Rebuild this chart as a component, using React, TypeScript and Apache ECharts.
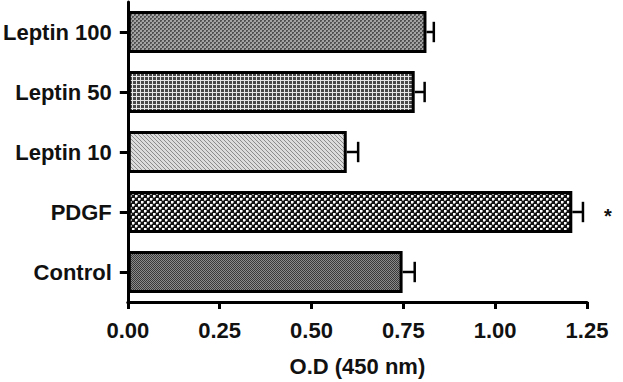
import React, { useEffect, useRef } from "react";
import * as echarts from "echarts";

const categories = ["Control", "PDGF", "Leptin 10", "Leptin 50", "Leptin 100"];
const values = [0.748, 1.21, 0.596, 0.781, 0.813];
const errors = [0.033, 0.029, 0.031, 0.027, 0.02];
const significance = ["", "*", "", "", ""];
const xTicks = [0, 0.25, 0.5, 0.75, 1.0, 1.25];
const xTitle = "O.D (450 nm)";

type Drawer = (ctx: CanvasRenderingContext2D) => void;

function makePattern(w: number, h: number, draw: Drawer) {
  const c = document.createElement("canvas");
  c.width = w;
  c.height = h;
  const ctx = c.getContext("2d") as CanvasRenderingContext2D;
  draw(ctx);
  return { image: c.toDataURL(), repeat: "repeat", imageWidth: w, imageHeight: h } as any;
}

function buildPatterns() {
  // Control: fine dark checker
  const control = makePattern(2, 2, (ctx) => {
    ctx.fillStyle = "#8a8a8a";
    ctx.fillRect(0, 0, 2, 2);
    ctx.fillStyle = "#383838";
    ctx.fillRect(0, 0, 1, 1);
    ctx.fillRect(1, 1, 1, 1);
  });
  // PDGF: black with white dots in a checker arrangement
  const pdgf = makePattern(6, 6, (ctx) => {
    ctx.fillStyle = "#141414";
    ctx.fillRect(0, 0, 6, 6);
    ctx.fillStyle = "#ffffff";
    ctx.fillRect(0, 0, 2, 2);
    ctx.fillRect(3, 3, 2, 2);
    ctx.fillStyle = "#9a9a9a";
    ctx.fillRect(2, 0, 1, 2);
    ctx.fillRect(0, 2, 2, 1);
    ctx.fillRect(5, 3, 1, 2);
    ctx.fillRect(3, 5, 2, 1);
  });
  // Leptin 10: light diagonal hatch
  const l10 = makePattern(4, 4, (ctx) => {
    ctx.fillStyle = "#dcdcdc";
    ctx.fillRect(0, 0, 4, 4);
    ctx.fillStyle = "#8c8c8c";
    for (let i = 0; i < 4; i++) ctx.fillRect(i, i, 1, 1);
  });
  // Leptin 50: dark with white grid lines
  const l50 = makePattern(4, 4, (ctx) => {
    ctx.fillStyle = "#484848";
    ctx.fillRect(0, 0, 4, 4);
    ctx.fillStyle = "#e6e6e6";
    ctx.fillRect(0, 0, 1, 4);
    ctx.fillRect(0, 0, 4, 1);
  });
  // Leptin 100: speckled mid-dark gray checker
  const l100 = makePattern(4, 4, (ctx) => {
    ctx.fillStyle = "#a4a4a4";
    ctx.fillRect(0, 0, 4, 4);
    ctx.fillStyle = "#505050";
    ctx.fillRect(0, 0, 2, 2);
    ctx.fillRect(2, 2, 2, 2);
    ctx.fillStyle = "#777";
    ctx.fillRect(1, 1, 1, 1);
    ctx.fillRect(3, 3, 1, 1);
  });
  return [control, pdgf, l10, l50, l100];
}

export default function App() {
  const ref = useRef<HTMLDivElement>(null);

  useEffect(() => {
    if (!ref.current) return;
    const chart = echarts.init(ref.current, null, { renderer: "svg" });
    const patterns = buildPatterns();
    const font = "Liberation Sans";

    const barData = values.map((v, i) => ({
      value: v,
      itemStyle: { color: patterns[i] },
    }));

    const errData = values.map((v, i) => [i, v, v + errors[i]]);

    chart.setOption({
      animation: false,
      backgroundColor: "#ffffff",
      grid: { left: 126, right: 36, top: 2, bottom: 74, containLabel: false },
      xAxis: {
        type: "value",
        min: xTicks[0],
        max: xTicks[xTicks.length - 1],
        interval: 0.25,
        name: xTitle,
        nameLocation: "middle",
        nameGap: 53,
        nameTextStyle: { fontFamily: font, fontWeight: "bold", fontSize: 22, color: "#111" },
        axisLine: { show: true, lineStyle: { color: "#000", width: 3 } },
        axisTick: { show: true, length: 7, lineStyle: { color: "#000", width: 3 } },
        axisLabel: {
          margin: 17,
          fontFamily: font,
          fontWeight: "bold",
          fontSize: 22,
          color: "#111",
          formatter: (v: number) => v.toFixed(2),
        },
        splitLine: { show: false },
      },
      yAxis: {
        type: "category",
        data: categories,
        axisLine: { show: true, lineStyle: { color: "#000", width: 3 } },
        axisTick: { show: true, alignWithLabel: true, length: 8, lineStyle: { color: "#000", width: 3 } },
        axisLabel: {
          margin: 16,
          fontFamily: font,
          fontWeight: "bold",
          fontSize: 22,
          color: "#111",
        },
      },
      series: [
        {
          type: "bar",
          data: barData,
          barCategoryGap: "30%",
          itemStyle: { borderColor: "#000", borderWidth: 3 },
          z: 2,
        },
        {
          type: "custom",
          data: errData,
          z: 3,
          renderItem: (params: any, api: any) => {
            const idx = api.value(0);
            const v = api.value(1);
            const hi = api.value(2);
            const start = api.coord([v, idx]);
            const end = api.coord([hi, idx]);
            const capH = api.size([0, 1])[1] * 0.34;
            const children: any[] = [
              {
                type: "line",
                shape: { x1: start[0], y1: start[1], x2: end[0], y2: end[1] },
                style: { stroke: "#000", lineWidth: 2.5 },
              },
              {
                type: "line",
                shape: { x1: end[0], y1: end[1] - capH / 2, x2: end[0], y2: end[1] + capH / 2 },
                style: { stroke: "#000", lineWidth: 2.5 },
              },
            ];
            const sig = significance[params.dataIndex];
            if (sig) {
              children.push({
                type: "text",
                x: end[0] + 25,
                y: end[1] + 4,
                style: {
                  text: sig,
                  fontFamily: font,
                  fontSize: 20,
                  fontWeight: "bold",
                  fill: "#111",
                  align: "center",
                  verticalAlign: "middle",
                },
              });
            }
            return { type: "group", children };
          },
        },
      ],
    });

    return () => chart.dispose();
  }, []);

  return <div ref={ref} style={{ width: 623, height: 382, position: "absolute", left: 0, top: 0 }} />;
}
